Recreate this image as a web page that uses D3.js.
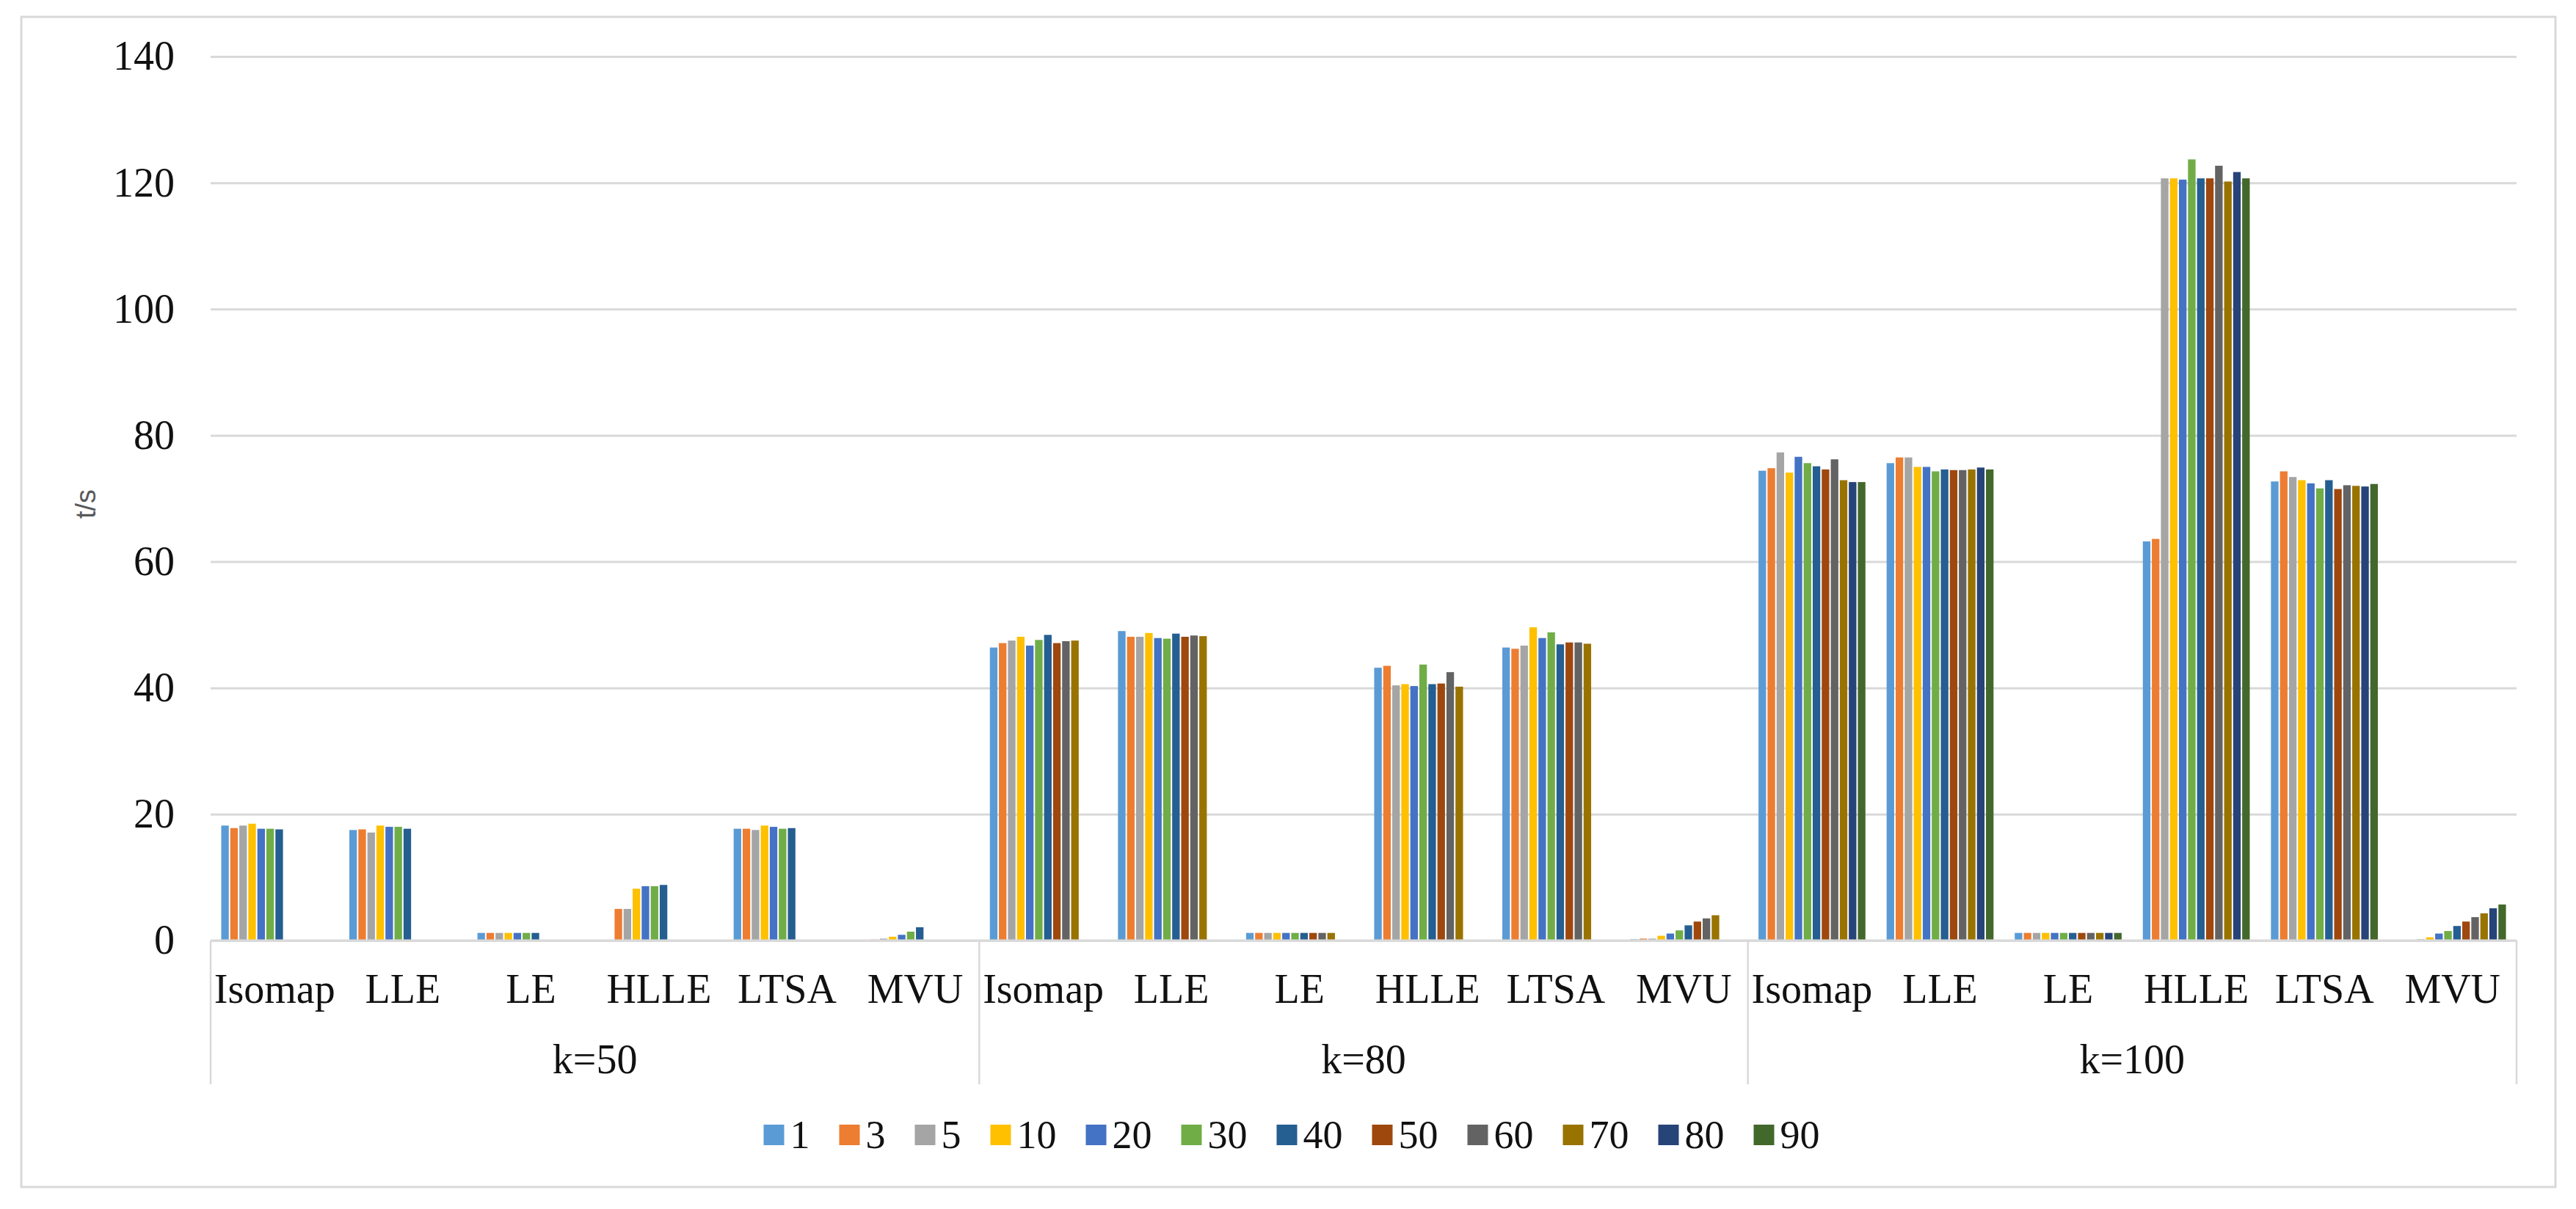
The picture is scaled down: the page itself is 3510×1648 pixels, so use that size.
<!DOCTYPE html>
<meta charset="utf-8">
<script src="https://d3js.org/d3.v7.min.js"></script>
<style>
  body { margin: 0; background: #fff; }
  text { font-family: "Liberation Serif", "Times New Roman", serif; }
</style>
<div id="chart"></div>
<script>

// categories
var groups = ["k=50", "k=80", "k=100"];
var methods = ["Isomap", "LLE", "LE", "HLLE", "LTSA", "MVU"];
var seriesNames = ["1", "3", "5", "10", "20", "30", "40", "50", "60", "70", "80", "90"];
var colors = ["#5B9BD5", "#ED7D31", "#A5A5A5", "#FFC000", "#4472C4", "#70AD47",
              "#255E91", "#9E480E", "#636363", "#997300", "#264478", "#43682B"];
var yTicks = [0, 20, 40, 60, 80, 100, 120, 140];

// values per series, order: k=50 | k=80 | k=100, each Isomap, LLE, LE, HLLE, LTSA, MVU
var s1  = [18.2, 17.5, 1.2, null, 17.7, 0.1,   46.4, 49.0, 1.2, 43.2, 46.4, 0.2,   74.4, 75.6, 1.2, 63.2, 72.7, 0.05];
var s3  = [17.8, 17.6, 1.2, 5.0, 17.7, 0.15,   47.1, 48.1, 1.2, 43.5, 46.2, 0.3,   74.8, 76.5, 1.2, 63.6, 74.3, 0.1];
var s5  = [18.2, 17.1, 1.2, 5.0, 17.5, 0.3,    47.5, 48.1, 1.2, 40.4, 46.7, 0.3,   77.3, 76.5, 1.2, 120.7, 73.4, 0.2];
var s10 = [18.5, 18.2, 1.2, 8.2, 18.2, 0.6,    48.1, 48.7, 1.2, 40.6, 49.6, 0.75,  74.1, 75.0, 1.2, 120.7, 72.9, 0.5];
var s20 = [17.7, 18.0, 1.2, 8.6, 18.0, 0.9,    46.7, 47.9, 1.2, 40.3, 47.9, 1.1,   76.6, 75.0, 1.2, 120.5, 72.4, 1.1];
var s30 = [17.7, 18.0, 1.2, 8.6, 17.7, 1.4,    47.6, 47.8, 1.2, 43.7, 48.8, 1.6,   75.6, 74.3, 1.2, 123.7, 71.6, 1.5];
var s40 = [17.6, 17.7, 1.2, 8.8, 17.8, 2.1,    48.4, 48.6, 1.2, 40.6, 46.9, 2.4,   75.1, 74.6, 1.2, 120.7, 72.9, 2.3];
var s50 = [null, null, null, null, null, null, 47.1, 48.1, 1.2, 40.7, 47.2, 3.0,   74.6, 74.5, 1.2, 120.7, 71.5, 3.0];
var s60 = [null, null, null, null, null, null, 47.4, 48.3, 1.2, 42.5, 47.2, 3.5,   76.2, 74.5, 1.2, 122.7, 72.1, 3.7];
var s70 = [null, null, null, null, null, null, 47.5, 48.2, 1.2, 40.2, 47.0, 4.0,   72.9, 74.6, 1.2, 120.2, 72.0, 4.3];
var s80 = [null, null, null, null, null, null, null, null, null, null, null, null, 72.6, 74.9, 1.2, 121.7, 71.9, 5.1];
var s90 = [null, null, null, null, null, null, null, null, null, null, null, null, 72.6, 74.6, 1.2, 120.7, 72.3, 5.7];
var seriesValues = [s1, s3, s5, s10, s20, s30, s40, s50, s60, s70, s80, s90];

// page and plot area
var W = 3510, H = 1648;
var margin = {top: 77, left: 287};
var width = 3429 - 287,
    height = 1282 - 77;

var svg = d3.select("#chart")
  .append("svg")
    .attr("width", W)
    .attr("height", H);

// outer chart border
svg.append("rect")
    .attr("x", 29).attr("y", 23)
    .attr("width", 3482 - 29).attr("height", 1618 - 23)
    .attr("fill", "#fff")
    .attr("stroke", "#d9d9d9")
    .attr("stroke-width", 3);

var g = svg.append("g")
    .attr("transform", "translate(" + margin.left + "," + margin.top + ")");

// one band per (group, method)
var cats = [];
groups.forEach(function(gr) { methods.forEach(function(m) { cats.push({group: gr, method: m}); }); });

var x0 = d3.scaleBand()
    .domain(d3.range(cats.length))
    .range([0, width])
    .paddingInner(0.154)
    .paddingOuter(0.077);

var x1 = d3.scaleBand()
    .domain(d3.range(seriesNames.length))
    .range([0, x0.bandwidth()]);

var y = d3.scaleLinear()
    .domain([0, 140])
    .range([height, 0]);

// gridlines + y labels
var yAxis = g.append("g")
    .call(d3.axisLeft(y).tickValues(yTicks).tickSize(-width).tickPadding(49).tickFormat(d3.format("d")));
yAxis.select(".domain").remove();
yAxis.selectAll("line").attr("stroke", "#d9d9d9").attr("stroke-width", 3);
yAxis.selectAll("text")
    .style("font-family", "'Liberation Serif', serif")
    .style("font-size", "56px")
    .attr("fill", "#111");

// bars
seriesValues.forEach(function(vals, i) {
  g.append("g")
    .selectAll("rect")
    .data(vals.map(function(v, j) { return {v: v, j: j}; }).filter(function(d) { return d.v != null; }))
    .enter()
    .append("rect")
      .attr("x", function(d) { return x0(d.j) + x1(i) + 1; })
      .attr("y", function(d) { return y(d.v); })
      .attr("width", x1.bandwidth() - 2)
      .attr("height", function(d) { return height - y(d.v); })
      .attr("fill", colors[i]);
});

// category axis: method labels, group labels, divider lines
var groupW = width / groups.length;
g.append("line")
    .attr("x1", 0).attr("x2", width)
    .attr("y1", height).attr("y2", height)
    .attr("stroke", "#d9d9d9").attr("stroke-width", 3);

d3.range(groups.length + 1).forEach(function(k) {
  g.append("line")
      .attr("x1", k * groupW).attr("x2", k * groupW)
      .attr("y1", height).attr("y2", 1478 - margin.top)
      .attr("stroke", "#d9d9d9").attr("stroke-width", 2.5);
});

g.selectAll(".cat")
  .data(cats)
  .enter()
  .append("text")
    .attr("x", function(d, j) { return x0(j) + x0.bandwidth() / 2; })
    .attr("y", 1367 - margin.top)
    .attr("text-anchor", "middle")
    .style("font-size", "56px")
    .attr("fill", "#111")
    .text(function(d) { return d.method; });

g.selectAll(".grp")
  .data(groups)
  .enter()
  .append("text")
    .attr("x", function(d, k) { return (k + 0.5) * groupW; })
    .attr("y", 1463 - margin.top)
    .attr("text-anchor", "middle")
    .style("font-size", "56px")
    .attr("fill", "#111")
    .text(function(d) { return d; });

// y axis title
svg.append("text")
    .attr("transform", "translate(117,687) rotate(-90)")
    .attr("text-anchor", "middle")
    .attr("dy", "0.35em")
    .style("font-family", "'Liberation Sans', Arial, sans-serif")
    .style("font-size", "38px")
    .attr("fill", "#595959")
    .text("t/s");

// legend, laid out then centred
var legend = svg.append("g");
var cursor = 0;
seriesNames.forEach(function(name, i) {
  var item = legend.append("g").attr("transform", "translate(" + cursor + ",0)");
  item.append("rect")
      .attr("x", 0).attr("y", -14)
      .attr("width", 28).attr("height", 28)
      .attr("fill", colors[i]);
  var t = item.append("text")
      .attr("x", 36).attr("y", 18)
      .style("font-size", "54px")
      .attr("fill", "#111")
      .text(name);
  cursor += 36 + t.node().getComputedTextLength() + 40;
});
var legendW = cursor - 40;
legend.attr("transform", "translate(" + (1760 - legendW / 2) + ",1547)");

</script>
